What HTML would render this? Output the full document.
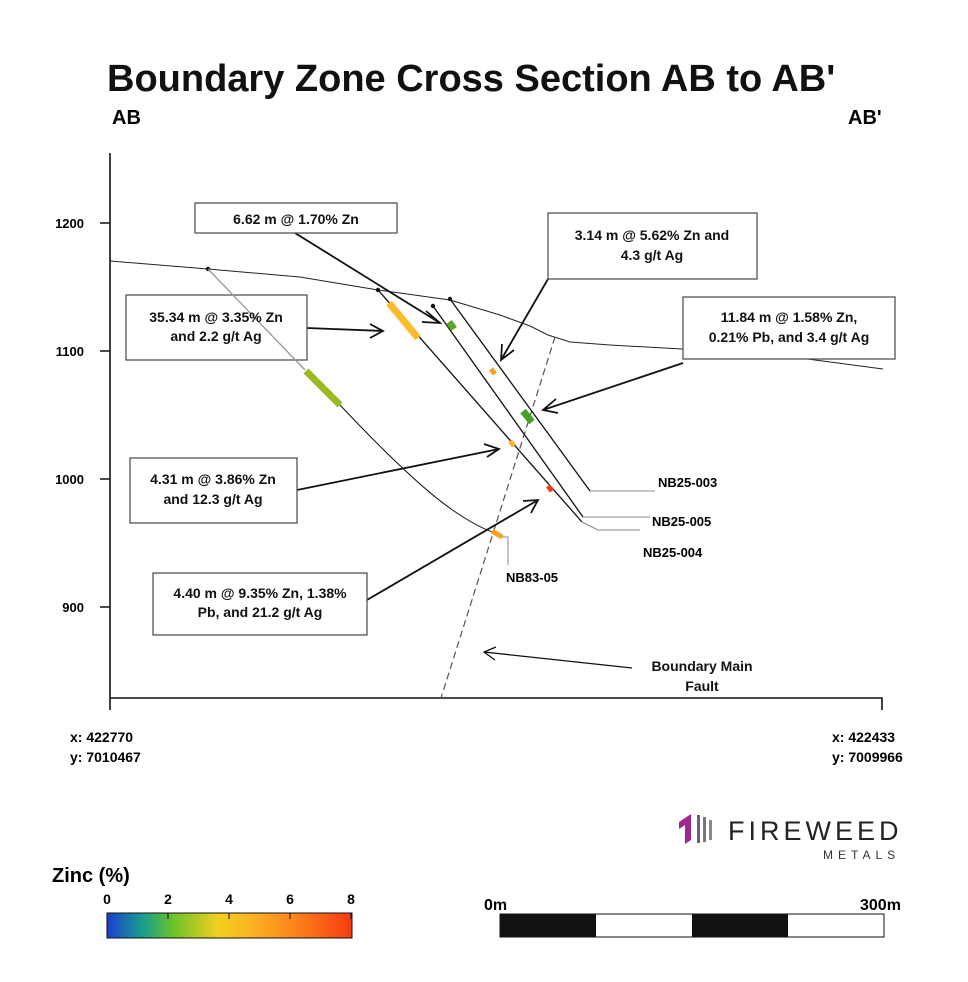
<!DOCTYPE html>
<html><head><meta charset="utf-8"><style>
body{margin:0;background:#fff}
svg{display:block;font-family:"Liberation Sans",sans-serif}
.b{font-weight:bold}
</style></head><body>
<svg width="968" height="982" viewBox="0 0 968 982" xmlns="http://www.w3.org/2000/svg">
<defs>
<linearGradient id="g" x1="0" x2="1"><stop offset="0" stop-color="#1a3fd0"/><stop offset="0.15" stop-color="#1aa08a"/><stop offset="0.27" stop-color="#6cc22a"/><stop offset="0.45" stop-color="#f0d020"/><stop offset="0.6" stop-color="#fbb024"/><stop offset="0.8" stop-color="#fb7a1a"/><stop offset="1" stop-color="#f53a10"/></linearGradient>
</defs>
<text x="107" y="91" font-size="38" class="b" fill="#111">Boundary Zone Cross Section AB to AB'</text>
<text x="112" y="124" font-size="20" class="b">AB</text>
<text x="848" y="124" font-size="20" class="b">AB'</text>
<!-- axes -->
<g stroke="#111" stroke-width="1.6" fill="none">
<path d="M110 153V710M110 698H882V710"/>
<path d="M100 223H110M100 351H110M100 479H110M100 607H110"/>
</g>
<g font-size="13" class="b" text-anchor="end"><text x="84" y="228">1200</text><text x="84" y="356">1100</text><text x="84" y="484">1000</text><text x="84" y="612">900</text></g>
<!-- topography -->
<path d="M110 261L208 269L300 277L378 290L450 300L500 315L530 326L548 335L570 342L610 345L700 350L800 358L883 369" stroke="#222" fill="none" stroke-width="1"/>
<!-- fault -->
<path d="M555 337L441 698" stroke="#555" stroke-dasharray="7 4" fill="none" stroke-width="1.2"/>
<!-- holes -->
<g fill="none" stroke="#111" stroke-width="1.3">
<path d="M340 405Q420 490 460 515Q480 528 495 533" stroke-width="1"/>
<path d="M378 290L582 522"/>
<path d="M433 306L583 517"/>
<path d="M450 299L590 491"/>
</g>
<g fill="#111"><circle cx="208" cy="269" r="2.2"/><circle cx="378" cy="290" r="2.2"/><circle cx="433" cy="306" r="2.2"/><circle cx="450" cy="299" r="2.2"/></g>
<g stroke-width="7" stroke-linecap="butt">
<path d="M389 303L418 338" stroke="#fbbb2a"/>
<path d="M449 322L454 329" stroke="#58a820"/>
<path d="M523 411L532 422" stroke="#46a02a"/>
<path d="M491 369L495 374" stroke="#f9a020" stroke-width="5"/>
<path d="M510 441L514 446" stroke="#fbb030" stroke-width="5"/>
<path d="M548 486L552 491" stroke="#f53a10" stroke-width="5"/>
<path d="M492 531L502 537" stroke="#fba020" stroke-width="5"/>
</g>
<!-- hole labels -->
<g stroke="#888" fill="none" stroke-width="1"><path d="M590 491H655"/><path d="M583 517H650"/><path d="M582 522L598 530H640"/><path d="M502 537H508V565"/></g>
<g font-size="13" class="b"><text x="658" y="487">NB25-003</text><text x="652" y="526">NB25-005</text><text x="643" y="557">NB25-004</text><text x="506" y="582">NB83-05</text></g>
<!-- callout arrows -->
<g stroke="#111" stroke-width="1.8" fill="none">
<path d="M295 233L440 323M426 311L440 323L422 322"/>
<path d="M548 279L501 360M502 344L501 360L514 350"/>
<path d="M683 363L543 410M556 399L543 410L558 413"/>
<path d="M307 328L383 331M370 324L383 331L370 338"/>
<path d="M297 490L499 449M484 444L499 449L487 457"/>
<path d="M367 600L538 500M523 501L538 500L531 513"/>
<path d="M632 668L484 652M496 647L484 652L495 660" stroke-width="1.3"/>
</g>
<!-- boxes -->
<g fill="#fff" stroke="#555" stroke-width="1.3">
<rect x="195" y="203" width="202" height="30"/>
<rect x="548" y="213" width="209" height="66"/>
<rect x="683" y="297" width="212" height="62"/>
<rect x="126" y="295" width="181" height="65" fill="none"/>
<rect x="130" y="458" width="167" height="65"/>
<rect x="153" y="573" width="214" height="62"/>
</g>
<path d="M208 269L305 370" stroke="#999" stroke-width="1.3" fill="none"/>
<path d="M306 371L340 405" stroke="#98bb22" stroke-width="7"/>
<g font-size="14" class="b" text-anchor="middle" fill="#111">
<text x="296" y="224">6.62 m @ 1.70% Zn</text>
<text x="652" y="240">3.14 m @ 5.62% Zn and</text><text x="652" y="260">4.3 g/t Ag</text>
<text x="789" y="322">11.84 m @ 1.58% Zn,</text><text x="789" y="342">0.21% Pb, and 3.4 g/t Ag</text>
<text x="216" y="322">35.34 m @ 3.35% Zn</text><text x="216" y="341">and 2.2 g/t Ag</text>
<text x="213" y="484">4.31 m @ 3.86% Zn</text><text x="213" y="504">and 12.3 g/t Ag</text>
<text x="260" y="598">4.40 m @ 9.35% Zn, 1.38%</text><text x="260" y="617">Pb, and 21.2 g/t Ag</text>
<text x="702" y="671">Boundary Main</text><text x="702" y="691">Fault</text>
</g>
<g font-size="14" class="b"><text x="70" y="742">x: 422770</text><text x="70" y="762">y: 7010467</text><text x="832" y="742">x: 422433</text><text x="832" y="762">y: 7009966</text></g>
<!-- logo -->
<g><path d="M679 822L691 814V840L685 844V825L679 829Z" fill="#a0258f"/>
<rect x="697" y="815" width="3" height="28" fill="#666"/><rect x="703" y="817" width="3" height="25" fill="#777"/><rect x="709" y="820" width="3" height="20" fill="#888"/></g>
<text x="728" y="840" font-size="27" letter-spacing="4" fill="#222">FIREWEED</text>
<text x="823" y="859" font-size="12" letter-spacing="5" fill="#333">METALS</text>
<!-- colorbar -->
<text x="52" y="882" font-size="20" class="b">Zinc (%)</text>
<rect x="107" y="913" width="245" height="25" fill="url(#g)" stroke="#111"/>
<g stroke="#111"><path d="M107 913V919M168 913V919M229 913V919M290 913V919M351 913V919"/></g>
<g font-size="14" class="b" text-anchor="middle"><text x="107" y="904">0</text><text x="168" y="904">2</text><text x="229" y="904">4</text><text x="290" y="904">6</text><text x="351" y="904">8</text></g>
<!-- scale bar -->
<text x="484" y="910" font-size="16" class="b">0m</text><text x="860" y="910" font-size="16" class="b">300m</text>
<rect x="500" y="914" width="384" height="23" fill="#fff" stroke="#111"/>
<rect x="500" y="914" width="96" height="23" fill="#111"/><rect x="692" y="914" width="96" height="23" fill="#111"/>
</svg>
</body></html>
